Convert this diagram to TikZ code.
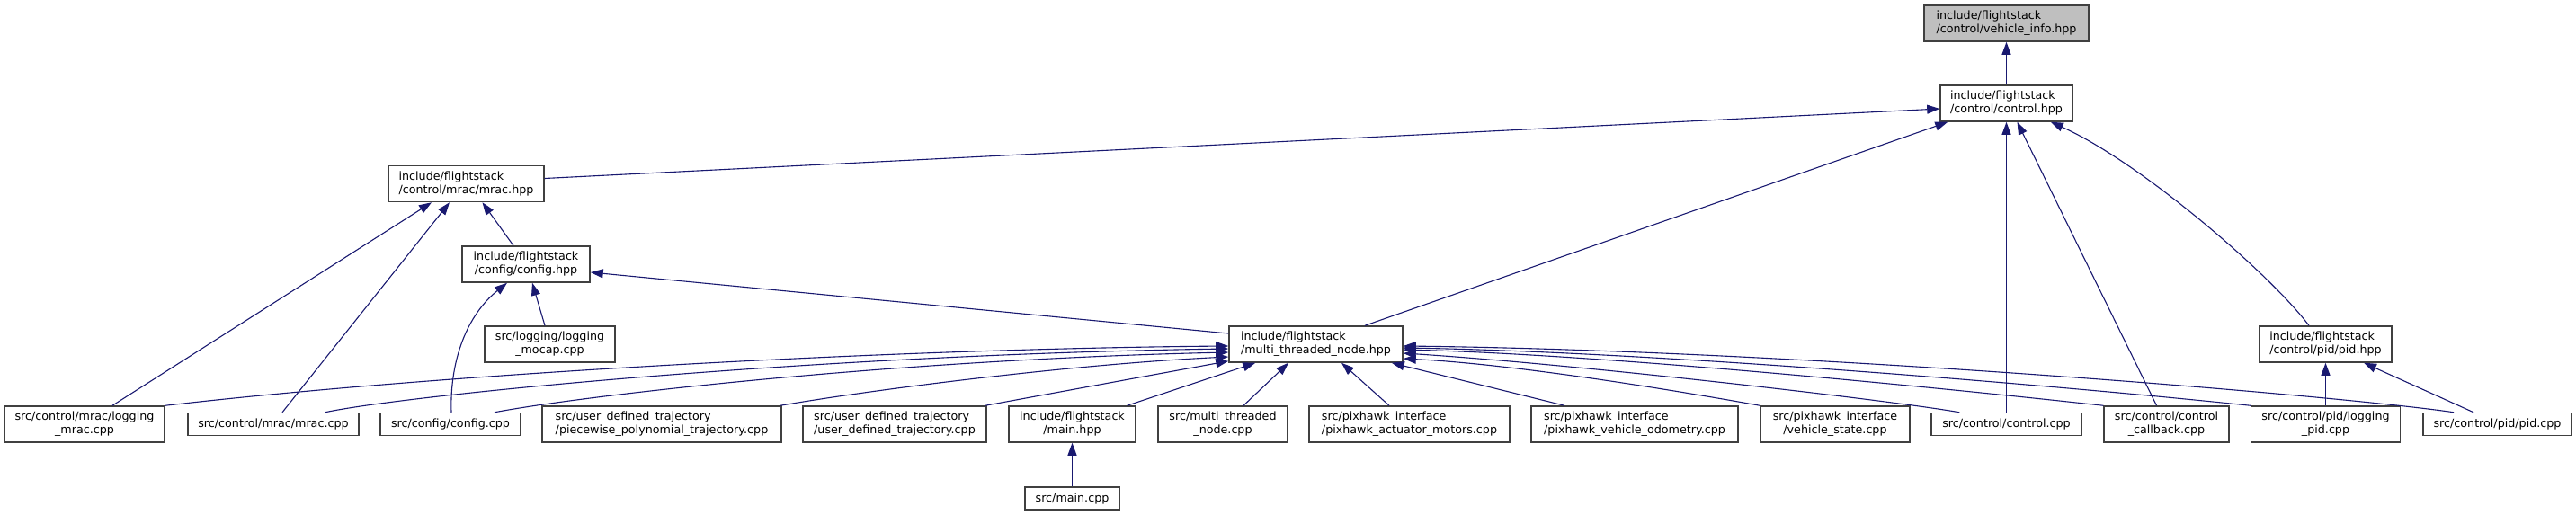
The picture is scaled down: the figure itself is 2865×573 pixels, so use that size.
\documentclass[tikz,border=0pt]{standalone}
\usepackage{fontspec}
\setmainfont{DejaVu Sans}
\usetikzlibrary{arrows.meta,calc}
\definecolor{edgeblue}{HTML}{191970}
\definecolor{boxgray}{HTML}{404040}
\definecolor{rootgray}{HTML}{BFBFBF}
\newcommand\fs{\fontsize{12.7}{15}\selectfont}
\newcommand\tl[2]{\begin{tabular}{@{}l@{}}#1\\\multicolumn{1}{@{}c@{}}{#2}\end{tabular}}
\tikzset{
  box/.style={draw=boxgray, line width=1.5pt, fill=white, rectangle, inner sep=0pt, font=\fs},
  two/.style={box, minimum height=40pt},
  one/.style={box, minimum height=25pt},
  edge/.style={draw=edgeblue, line width=1.1pt, -{Triangle[length=14pt,width=10pt,fill=edgeblue]}}
}
\begin{document}
\begin{tikzpicture}[x=1pt,y=-1pt]
\useasboundingbox (0,0) rectangle (2865,573);
% nodes
\node[two, fill=rootgray, minimum width=183pt] (vinfo) at (2231.5,26) {\tl{include/flightstack}{/control/vehicle\_info.hpp}};
\node[two, minimum width=147pt] (ctrlh) at (2231.5,115) {\tl{include/flightstack}{/control/control.hpp}};
\node[two, minimum width=173pt] (mrach) at (518.5,204.5) {\tl{include/flightstack}{/control/mrac/mrac.hpp}};
\node[two, minimum width=142pt] (configh) at (585,294) {\tl{include/flightstack}{/config/config.hpp}};
\node[two, minimum width=145pt] (mocap) at (611.5,383) {\tl{src/logging/logging}{\_mocap.cpp}};
\node[two, minimum width=193pt] (mtn) at (1463.5,383) {\tl{include/flightstack}{/multi\_threaded\_node.hpp}};
\node[two, minimum width=147pt] (pidh) at (2586.5,383) {\tl{include/flightstack}{/control/pid/pid.hpp}};
\node[two, minimum width=178pt] (lmrac) at (94,472) {\tl{src/control/mrac/logging}{\_mrac.cpp}};
\node[one, minimum width=190pt] (mraccpp) at (304,472) {src/control/mrac/mrac.cpp};
\node[one, minimum width=156pt] (configcpp) at (501,472) {src/config/config.cpp};
\node[two, minimum width=266pt] (piecewise) at (736,472) {\tl{src/user\_defined\_trajectory}{/piecewise\_polynomial\_trajectory.cpp}};
\node[two, minimum width=204pt] (userdef) at (995,472) {\tl{src/user\_defined\_trajectory}{/user\_defined\_trajectory.cpp}};
\node[two, minimum width=141pt] (mainhpp) at (1192.5,472) {\tl{include/flightstack}{/main.hpp}};
\node[two, minimum width=144pt] (mtncpp) at (1360,472) {\tl{src/multi\_threaded}{\_node.cpp}};
\node[two, minimum width=223pt] (actuator) at (1567.5,472) {\tl{src/pixhawk\_interface}{/pixhawk\_actuator\_motors.cpp}};
\node[two, minimum width=230pt] (odom) at (1818,472) {\tl{src/pixhawk\_interface}{/pixhawk\_vehicle\_odometry.cpp}};
\node[two, minimum width=166pt] (vstate) at (2041,472) {\tl{src/pixhawk\_interface}{/vehicle\_state.cpp}};
\node[one, minimum width=167pt] (ctrlcpp) at (2231.5,472) {src/control/control.cpp};
\node[two, minimum width=139pt] (callback) at (2409.5,472) {\tl{src/control/control}{\_callback.cpp}};
\node[two, minimum width=166pt] (lpid) at (2586.5,472) {\tl{src/control/pid/logging}{\_pid.cpp}};
\node[one, minimum width=165pt] (pidcpp) at (2777.5,472) {src/control/pid/pid.cpp};
\node[one, minimum width=105pt] (maincpp) at (1192.5,554.5) {src/main.cpp};
% edges
\draw[edge] (ctrlh.north) -- (vinfo.south);
\draw[edge] ($(mrach.east)+(0,-6)$) -- ($(ctrlh.west)+(0,6)$);
\draw[edge] ($(mtn.north)+(54.5,0)$) -- ($(ctrlh.south west)+(9,0)$);
\draw[edge] (ctrlcpp.north) -- (ctrlh.south);
\draw[edge] ($(callback.north)+(-11,0)$) -- ($(ctrlh.south)+(12,0)$);
\draw[edge] ($(pidh.north)+(-18.5,0)$) .. controls (2525,305) and (2380,180) .. ($(ctrlh.south east)+(-25,0)$);
\draw[edge] ($(configh.north)+(-14,0)$) -- ($(mrach.south)+(18,0)$);
\draw[edge] ($(lmrac.north)+(31,0)$) -- ($(mrach.south)+(-38.5,0)$);
\draw[edge] ($(mraccpp.north)+(10,0)$) -- ($(mrach.south)+(-18.5,0)$);
\draw[edge] ($(mtn.west)+(0,-12)$) -- ($(configh.east)+(0,9)$);
\draw[edge] ($(configcpp.north)+(1,0)$) .. controls (500,400) and (520,350) .. ($(configh.south)+(-21,0)$);
\draw[edge] ($(mocap.north)+(-5.5,0)$) -- ($(configh.south)+(7,0)$);
\draw[edge] (lmrac.north east) .. controls (500,415) and (1000,388) .. ($(mtn.west)+(0,2)$);
\draw[edge] ($(mraccpp.north)+(57.5,0)$) .. controls (450,440) and (900,395) .. ($(mtn.west)+(0,5)$);
\draw[edge] ($(configcpp.north)+(49,0)$) .. controls (650,440) and (1000,400) .. ($(mtn.west)+(0,9)$);
\draw[edge] ($(piecewise.north east)+(-2,0)$) .. controls (980,432) and (1200,405) .. ($(mtn.west)+(0,14)$);
\draw[edge] ($(userdef.north east)+(-2,0)$) -- ($(mtn.south west)+(0,-2)$);
\draw[edge] ($(mainhpp.north)+(61,0)$) -- ($(mtn.south west)+(30,0)$);
\draw[edge] ($(mtncpp.north)+(23,0)$) -- ($(mtn.south)+(-30.5,0)$);
\draw[edge] ($(actuator.north)+(-22.5,0)$) -- ($(mtn.south)+(28.5,0)$);
\draw[edge] ($(odom.north)+(-78,0)$) -- ($(mtn.south east)+(-13,0)$);
\draw[edge] (vstate.north west) .. controls (1850,432) and (1680,405) .. ($(mtn.east)+(0,16)$);
\draw[edge] ($(ctrlcpp.north west)+(32,0)$) .. controls (2100,445) and (1750,405) .. ($(mtn.east)+(0,10)$);
\draw[edge] (callback.north west) .. controls (2200,436) and (1800,395) .. ($(mtn.east)+(0,6)$);
\draw[edge] (lpid.north west) .. controls (2300,430) and (1850,392) .. ($(mtn.east)+(0,4)$);
\draw[edge] ($(pidcpp.north)+(-48.5,0)$) .. controls (2600,440) and (2000,390) .. ($(mtn.east)+(0,2)$);
\draw[edge] (maincpp.north) -- (mainhpp.south);
\draw[edge] (lpid.north) -- (pidh.south);
\draw[edge] ($(pidcpp.north)+(-26.5,0)$) -- ($(pidh.south)+(42.5,0)$);
\end{tikzpicture}
\end{document}
